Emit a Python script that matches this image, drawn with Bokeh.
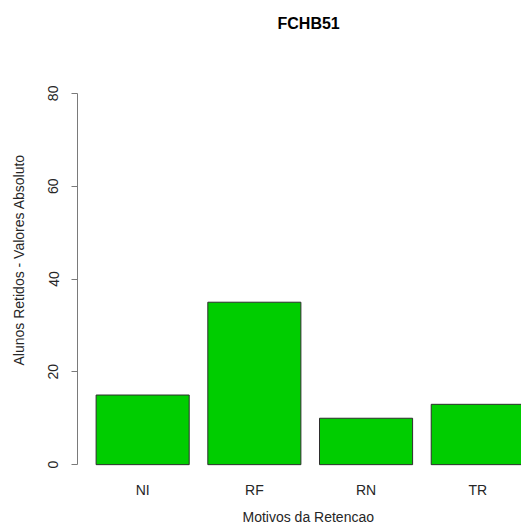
from bokeh.plotting import figure
from bokeh.models import Range1d, FixedTicker, LinearAxis, Title
from bokeh.embed import file_html
from bokeh.resources import INLINE

# ---- data ----
title_text = "FCHB51"
categories = ["NI", "RF", "RN", "TR"]
values = [15, 35, 10, 13]
y_ticks = [0, 20, 40, 60, 80]
x_label = "Motivos da Retencao"
y_label = "Alunos Retidos - Valores Absoluto"

# ---- layout (R barplot style: width 1, space 0.2) ----
bar_width = 1.0
space = 0.2
centers = [round(space + i * (bar_width + space) + bar_width / 2, 6) for i in range(len(categories))]

FONT = "Liberation Sans"
TEXT_COLOR = "#262626"
AXIS_COLOR = "#7a7a7a"

p = figure(width=521, height=531,
           x_range=Range1d(0.0, 4.77), y_range=Range1d(-3.2, 83.2),
           output_backend="svg", toolbar_location=None,
           x_axis_location=None, y_axis_location=None,
           min_border_left=77, min_border_right=0,
           min_border_top=78, min_border_bottom=49)
p.grid.visible = False
p.outline_line_color = None
p.background_fill_color = "white"
p.border_fill_color = "white"

p.vbar(x=centers, width=bar_width, top=values, bottom=0,
       fill_color="#00CD00", line_color="#2e2e2e", line_width=1)


def spacer(size, at):
    """Axis with a single invisible tick, used only to reserve space between panels."""
    ax = LinearAxis(ticker=FixedTicker(ticks=[at]), major_label_overrides={at: ""})
    ax.axis_line_color = None
    ax.major_tick_line_color = "white"
    ax.minor_tick_line_color = None
    ax.major_tick_out = size
    ax.major_tick_in = 0
    ax.major_label_standoff = 0
    ax.major_label_text_font_size = "1px"
    return ax


# y axis
yax = LinearAxis(ticker=FixedTicker(ticks=y_ticks), bounds=(min(y_ticks), max(y_ticks)))
yax.axis_line_color = AXIS_COLOR
yax.major_tick_line_color = AXIS_COLOR
yax.major_tick_out = 6
yax.major_tick_in = 0
yax.minor_tick_line_color = None
yax.major_label_orientation = "vertical"
yax.major_label_standoff = 13
yax.major_label_text_font = FONT
yax.major_label_text_font_size = "14px"
yax.major_label_text_color = TEXT_COLOR
p.add_layout(yax, "left")
p.add_layout(spacer(19, y_ticks[0]), "left")

# x axis (category names under bars, no line/ticks)
xax = LinearAxis(ticker=FixedTicker(ticks=centers),
                 major_label_overrides={c: n for c, n in zip(centers, categories)})
xax.axis_line_color = None
xax.major_tick_line_color = None
xax.minor_tick_line_color = None
xax.major_tick_out = 0
xax.major_tick_in = 0
xax.major_label_standoff = 2
xax.major_label_text_font = FONT
xax.major_label_text_font_size = "14px"
xax.major_label_text_color = TEXT_COLOR
p.add_layout(xax, "below")

p.add_layout(spacer(47, centers[0]), "above")

# axis titles and main title (placed like the original R plot)
ytitle = Title(text=y_label, align="left", offset=114, standoff=0,
               text_font=FONT, text_font_size="14px", text_font_style="normal",
               text_color=TEXT_COLOR)
p.add_layout(ytitle, "left")

xtitle = Title(text=x_label, align="left", offset=165, standoff=13,
               text_font=FONT, text_font_size="14px", text_font_style="normal",
               text_color=TEXT_COLOR)
p.add_layout(xtitle, "below")

main = Title(text=title_text, align="left", offset=200, standoff=0,
             text_font=FONT, text_font_size="16px", text_font_style="bold",
             text_color="black")
p.add_layout(main, "above")

open("out.html", "w").write(file_html(p, INLINE))
